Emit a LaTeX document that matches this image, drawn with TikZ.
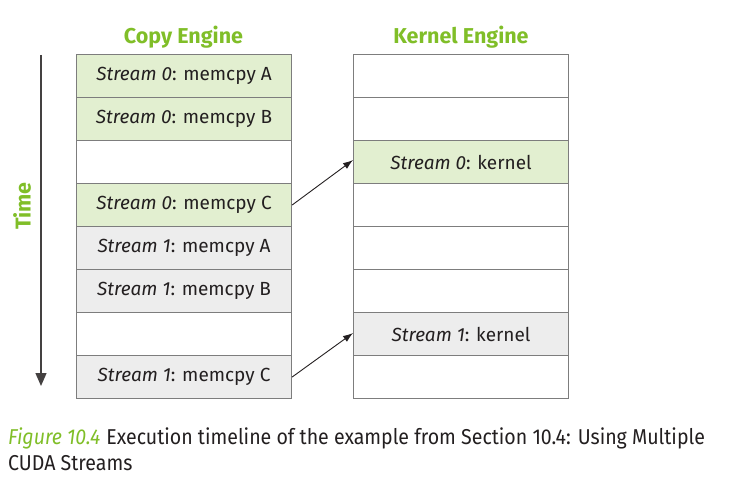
\documentclass[tikz,border=0pt]{standalone}
\usepackage{fontspec}
\setmainfont{Fira Sans}
\newfontfamily\capfont[FakeStretch=0.91]{Fira Sans}
\usetikzlibrary{arrows.meta}
\definecolor{nvgreen}{RGB}{128,190,40}
\definecolor{lgreen}{RGB}{226,239,208}
\definecolor{lgrey}{RGB}{237,237,237}
\definecolor{bordergrey}{RGB}{125,125,125}
\definecolor{txt}{RGB}{35,31,32}
\tikzset{
  x=1pt, y=-1pt,
  cell/.style={draw=bordergrey, line width=1.1pt, minimum width=215pt, minimum height=43pt, inner sep=0pt, anchor=north west, font=\fontsize{19pt}{22pt}\selectfont, text=txt},
  gcell/.style={cell, fill=lgreen},
  ycell/.style={cell, fill=lgrey},
  wcell/.style={cell, fill=white},
  hdr/.style={font=\bfseries\fontsize{21.5pt}{24pt}\selectfont, text=nvgreen},
  conn/.style={-{Latex[length=10pt,width=7pt]}, line width=0.9pt, draw=txt},
  captext/.style={anchor=base west, inner sep=0pt, text=txt, font=\capfont\fontsize{21.5pt}{26pt}\selectfont}
}
\begin{document}
\begin{tikzpicture}
\useasboundingbox (0,0) rectangle (736,484);
\node[hdr] (hc) at (183.5,37) {Copy Engine};
\node[hdr] (hk) at (461,37) {Kernel Engine};
% copy engine
\node[gcell] (c1) at (76,54) {\textit{Stream 0}: memcpy A};
\node[gcell] (c2) at (76,97) {\textit{Stream 0}: memcpy B};
\node[wcell] (c3) at (76,140) {};
\node[gcell] (c4) at (76,183) {\textit{Stream 0}: memcpy C};
\node[ycell] (c5) at (76,226) {\textit{Stream 1}: memcpy A};
\node[ycell] (c6) at (76,269) {\textit{Stream 1}: memcpy B};
\node[wcell] (c7) at (76,312) {};
\node[ycell] (c8) at (76,355) {\textit{Stream 1}: memcpy C};
% kernel engine
\node[wcell] (k1) at (353,54) {};
\node[wcell] (k2) at (353,97) {};
\node[gcell] (k3) at (353,140) {\textit{Stream 0}: kernel};
\node[wcell] (k4) at (353,183) {};
\node[wcell] (k5) at (353,226) {};
\node[wcell] (k6) at (353,269) {};
\node[ycell] (k7) at (353,312) {\textit{Stream 1}: kernel};
\node[wcell] (k8) at (353,355) {};
% arrows
\draw[conn] (c4.east) -- ([yshift=2pt]k3.west);
\draw[conn] (c8.east) -- ([yshift=1pt]k7.west);
% time
\coordinate (t0) at (41,55);
\coordinate (t1) at (41,386);
\draw[line width=1.3pt, draw=txt!85, -{Triangle[length=13pt,width=11pt]}] (t0) -- (t1);
\node[hdr, rotate=90] (time) at (22,206) {Time};
% caption
\node[captext] (cap1) at (8,444)
 {{\color{nvgreen}\itshape Figure 10.4}\hspace{6pt}Execution timeline of the example from Section 10.4: Using Multiple};
\node[captext] (cap2) at (8,470) {CUDA Streams};
\end{tikzpicture}
\end{document}
